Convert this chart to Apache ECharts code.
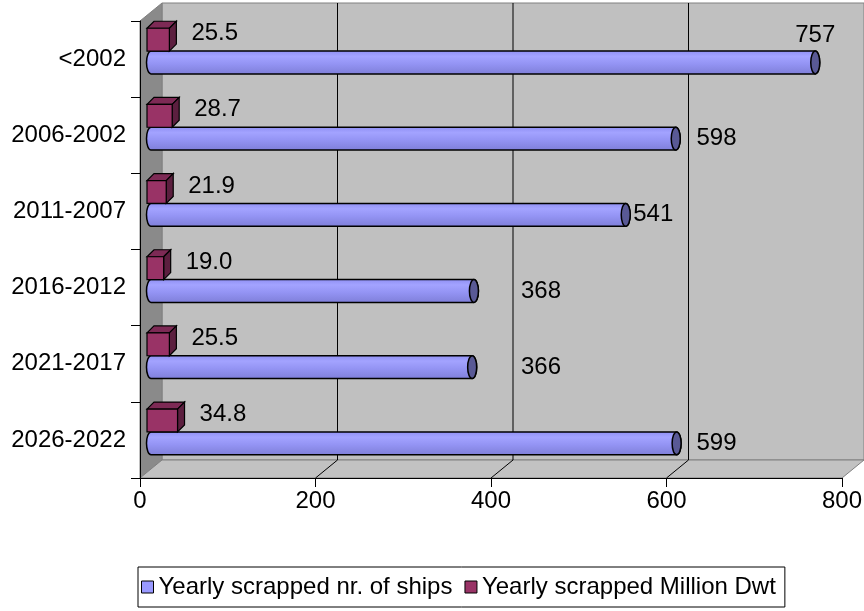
<!DOCTYPE html>
<html>
<head>
<meta charset="utf-8"/>
<title>Yearly scrapped ships</title>
<script src="https://cdn.jsdelivr.net/npm/echarts@6/dist/echarts.min.js"></script>
<style>
  html, body { margin: 0; padding: 0; background: #fff; }
  #chart { width: 864px; height: 611px; }
</style>
</head>
<body>
<div id="chart"></div>
<script>
// data
var categories = ['<2002', '2006-2002', '2011-2007', '2016-2012', '2021-2017', '2026-2022'];
var ships = [757, 598, 541, 368, 366, 599];
var dwt = [25.5, 28.7, 21.9, 19.0, 25.5, 34.8];
var xTicks = [0, 200, 400, 600, 800];

var shipsName = 'Yearly scrapped nr. of ships';
var dwtName = 'Yearly scrapped Million Dwt';

var FONT = '"Liberation Sans", Arial, sans-serif';
var DX = 22, DY = 18;       // depth of the 3d box
var BAR_DX = 7;             // depth of the cube
var LABEL_SIZE = 24;

function frame(params, api) {
    var n = categories.length;
    var band = api.size([0, 1])[1];
    var x0 = api.coord([xTicks[0], 0])[0];
    var x1 = api.coord([xTicks[xTicks.length - 1], 0])[0];
    var yTop = api.coord([0, 0])[1] - band / 2;
    var yBot = api.coord([0, n - 1])[1] + band / 2;
    var kids = [];
    kids.push({type: 'rect', shape: {x: x0 + DX, y: yTop - DY, width: x1 - x0, height: yBot - yTop},
        style: {fill: '#c0c0c0', stroke: '#808080', lineWidth: 1}});
    kids.push({type: 'polygon', shape: {points: [[x0, yTop], [x0 + DX, yTop - DY], [x0 + DX, yBot - DY], [x0, yBot]]},
        style: {fill: '#8a8a8a', stroke: '#808080', lineWidth: 1}});
    kids.push({type: 'polygon', shape: {points: [[x0, yBot], [x0 + DX, yBot - DY], [x1 + DX, yBot - DY], [x1, yBot]]},
        style: {fill: '#c2c2c2', stroke: '#808080', lineWidth: 1}});
    for (var k = 1; k < xTicks.length - 1; k++) {
        var gx = api.coord([xTicks[k], 0])[0];
        kids.push({type: 'line', shape: {x1: gx + DX, y1: yTop - DY, x2: gx + DX, y2: yBot - DY},
            style: {stroke: '#000', lineWidth: 1}});
        kids.push({type: 'line', shape: {x1: gx + DX, y1: yBot - DY, x2: gx, y2: yBot},
            style: {stroke: '#000', lineWidth: 1}});
    }
    return {type: 'group', children: kids};
}

function slot(api, i) {
    var band = api.size([0, 1])[1];
    var t = api.coord([0, i])[1] - band / 2;
    var h = band * 0.3;
    var top = t + band * 0.095;
    return {cubeTop: top, cylTop: top + h, h: h};
}

function cylinder(params, api) {
    var v = api.value(0), i = api.value(1);
    var s = slot(api, i);
    var xl = api.coord([0, i])[0] + 11;
    var xr = api.coord([v, i])[0] + 11;
    var yT = s.cylTop, yB = s.cylTop + s.h, ry = s.h / 2, rx = 4.5;
    var body = 'M' + xl + ' ' + yT + ' L' + xr + ' ' + yT +
        ' A' + rx + ' ' + ry + ' 0 0 1 ' + xr + ' ' + yB +
        ' L' + xl + ' ' + yB +
        ' A' + rx + ' ' + ry + ' 0 0 1 ' + xl + ' ' + yT + ' Z';
    var cap = 'M' + xr + ' ' + yT + ' A' + rx + ' ' + ry + ' 0 0 1 ' + xr + ' ' + yB +
        ' A' + rx + ' ' + ry + ' 0 0 1 ' + xr + ' ' + yT + ' Z';
    var grad = {type: 'linear', x: 0, y: 0, x2: 0, y2: 1, colorStops: [
        {offset: 0, color: '#8e8ef2'}, {offset: 0.25, color: '#a3a3ff'},
        {offset: 0.55, color: '#9494f4'}, {offset: 1, color: '#7e7ed8'}]};

    // label: right of the cap, pushed past a back gridline, or above if no room
    var txt = String(v);
    var w = txt.length * LABEL_SIZE * 0.556;
    var lx = xr + rx + 3, ly = (yT + yB) / 2, align = 'left', va = 'middle';
    for (var k = 1; k < xTicks.length - 1; k++) {
        var gx = api.coord([xTicks[k], 0])[0] + DX;
        if (gx >= lx - 2 && gx <= lx + w) lx = gx + 8;
    }
    if (lx + w > 860) { lx = xr; ly = yT - 4; align = 'center'; va = 'bottom'; }

    return {type: 'group', children: [
        {type: 'path', shape: {pathData: body}, style: {fill: grad, stroke: '#000', lineWidth: 1.5}},
        {type: 'path', shape: {pathData: cap}, style: {fill: '#595995', stroke: '#000', lineWidth: 1.5}},
        {type: 'text', style: {text: txt, x: lx, y: ly, align: align, verticalAlign: va,
            fontSize: LABEL_SIZE, fontFamily: FONT, fill: '#000'}}
    ]};
}

function cube(params, api) {
    var v = api.value(0), i = api.value(1);
    var s = slot(api, i);
    var x0 = api.coord([0, i])[0] + BAR_DX;
    var x1 = api.coord([v, i])[0] + BAR_DX;
    var y0 = s.cubeTop, y1 = s.cubeTop + s.h, d = BAR_DX;
    var line = {stroke: '#000', lineWidth: 1.2};
    return {type: 'group', children: [
        {type: 'polygon', shape: {points: [[x0, y0], [x0 + d, y0 - d], [x1 + d, y0 - d], [x1, y0]]},
            style: Object.assign({fill: '#7d2a55'}, line)},
        {type: 'polygon', shape: {points: [[x1, y0], [x1 + d, y0 - d], [x1 + d, y1 - d], [x1, y1]]},
            style: Object.assign({fill: '#5c1f3f'}, line)},
        {type: 'rect', shape: {x: x0, y: y0, width: x1 - x0, height: y1 - y0},
            style: Object.assign({fill: '#993366'}, line)},
        {type: 'text', style: {text: v.toFixed(1), x: x1 + d + 15, y: (y0 + y1) / 2 - 6,
            align: 'left', verticalAlign: 'middle', fontSize: LABEL_SIZE, fontFamily: FONT, fill: '#000'}}
    ]};
}

var chart = echarts.init(document.getElementById('chart'), null, {renderer: 'canvas'});
chart.setOption({
    animation: false,
    backgroundColor: '#fff',
    textStyle: {fontFamily: FONT},
    grid: {left: 140, top: 21, right: 22, bottom: 133, containLabel: false, outerBoundsMode: 'none'},
    xAxis: {
        type: 'value', min: xTicks[0], max: xTicks[xTicks.length - 1], interval: 200, z: 3,
        axisLine: {show: true, lineStyle: {color: '#000', width: 1}},
        axisTick: {show: true, length: 9, lineStyle: {color: '#000'}},
        axisLabel: {fontSize: LABEL_SIZE, color: '#000', margin: 11, fontFamily: FONT},
        splitLine: {show: false}
    },
    yAxis: {
        type: 'category', data: categories, inverse: true, boundaryGap: true, z: 3,
        axisLine: {show: true, lineStyle: {color: '#000', width: 1}},
        axisTick: {show: true, length: 9, lineStyle: {color: '#000'}},
        axisLabel: {fontSize: LABEL_SIZE, color: '#000', margin: 14, fontFamily: FONT},
        splitLine: {show: false}
    },
    legend: {
        data: [{name: shipsName, icon: 'rect'}, {name: dwtName, icon: 'rect'}],
        left: 138, top: 567, itemWidth: 12, itemHeight: 12, itemGap: 12,
        padding: [8, 9, 8, 3], borderColor: '#000', borderWidth: 1,
        itemStyle: {borderColor: '#000', borderWidth: 1},
        textStyle: {fontSize: 24, color: '#000', fontFamily: FONT}
    },
    series: [
        {type: 'custom', name: 'frame', z: 1, silent: true, renderItem: frame, data: [[0, 0]],
            encode: {x: 0, y: 1}},
        {type: 'custom', name: shipsName, z: 2, renderItem: cylinder, itemStyle: {color: '#9999ff'},
            data: ships.map(function (v, i) { return [v, i]; }), encode: {x: 0, y: 1}},
        {type: 'custom', name: dwtName, z: 2, renderItem: cube, itemStyle: {color: '#993366'},
            data: dwt.map(function (v, i) { return [v, i]; }), encode: {x: 0, y: 1}}
    ]
});
</script>
</body>
</html>
